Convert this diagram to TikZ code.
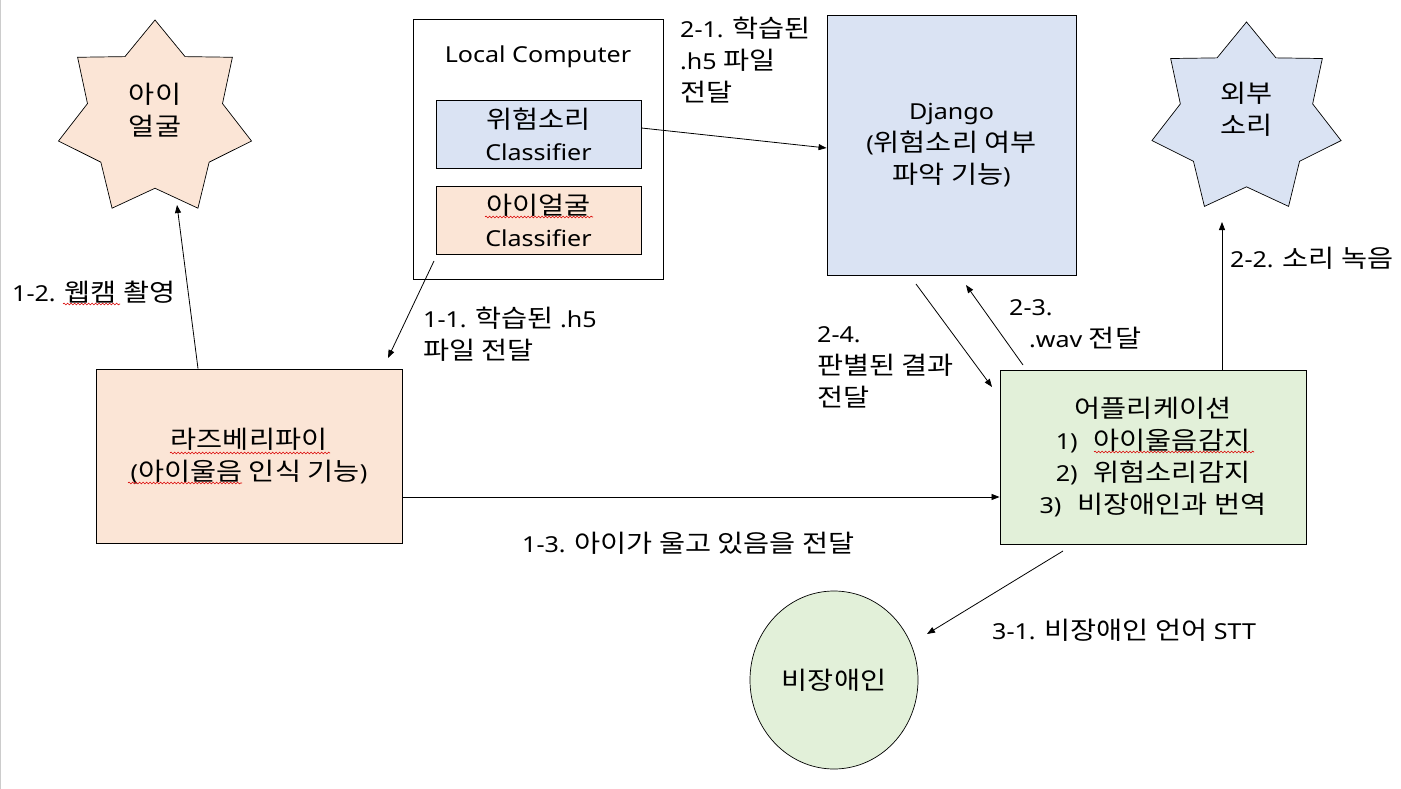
\documentclass[tikz,border=0pt]{standalone}
\usepackage{fontspec}
\setmainfont{Noto Sans}[FakeStretch=1.14]
\newfontfamily\krfont{Noto Sans CJK KR}[Scale=1.12, FakeStretch=1.15]
\XeTeXinterchartokenstate=1
\newXeTeXintercharclass\krclass
\newcount\hcnt
\hcnt="AC00
\loop
  \XeTeXcharclass\hcnt=\krclass
  \ifnum\hcnt<"D7A3 \advance\hcnt by 1
\repeat
\XeTeXinterchartoks 0 \krclass = {\krfont}
\XeTeXinterchartoks 4095 \krclass = {\krfont}
\XeTeXinterchartoks \krclass 0 = {\rmfamily}
\XeTeXinterchartoks \krclass 4095 = {\rmfamily}
\usetikzlibrary{shapes.geometric,arrows.meta,decorations.pathmorphing}
\definecolor{pblue}{HTML}{DAE3F3}
\definecolor{ppeach}{HTML}{FBE5D6}
\definecolor{pgreen}{HTML}{E2F0D9}
\begin{document}
\begin{tikzpicture}[x=1pt,y=-1pt,
  font=\fontsize{22}{32}\selectfont,
  box/.style={draw=black, line width=0.9pt, rectangle, inner sep=0pt, align=center},
  starshape/.style={draw=black, star, star points=7, star point ratio=1.43, inner sep=0pt, line width=0.7pt},
  arr/.style={line width=0.8pt, -{Triangle[length=8pt,width=6pt]}},
  lbl/.style={anchor=west, align=left, inner sep=0pt},
  txt/.style={align=center, inner sep=0pt},
  squig/.style={draw=red!85!black, line width=0.6pt, decorate, decoration={snake, amplitude=0.9pt, segment length=3.5pt}}]
\useasboundingbox (0,0) rectangle (1401,789);
\fill[white] (0,0) rectangle (1401,789);
\draw[gray!40, line width=1.2pt] (0.6,0) -- (0.6,789);

% stars
\node[starshape, fill=ppeach, minimum size=198pt] (s1) at (155,119) {};
\node[txt] (s1t) at (155,110) {아이\\얼굴};
\node[starshape, fill=pblue, minimum size=194pt] (s2) at (1246.5,119) {};
\node[txt] (s2t) at (1246.5,109) {외부\\소리};

% local computer
\node[box, minimum width=250pt, minimum height=260pt] (lc) at (538,149) {};
\node[txt] (lct) at (538,57) {Local Computer};
\node[box, fill=pblue, minimum width=205pt, minimum height=68pt] (c1) at (538.5,134) {위험소리\\Classifier};
\node[box, fill=ppeach, minimum width=205pt, minimum height=68pt] (c2) at (538.5,220) {아이얼굴\\Classifier};

% django
\node[box, fill=pblue, minimum width=249pt, minimum height=260pt] (dj) at (951.5,145) {Django\\(위험소리 여부\\파악 기능)};

% raspberry pi
\node[box, fill=ppeach, minimum width=306pt, minimum height=174pt] (rp) at (249,456) {라즈베리파이\\(아이울음 인식 기능)};

% application
\node[box, fill=pgreen, minimum width=306pt, minimum height=174pt] (app) at (1153,457) {어플리케이션\\1)\hspace{16pt}아이울음감지\\2)\hspace{16pt}위험소리감지\\3)\hspace{16pt}비장애인과 번역};

% person
\node[draw=black, ellipse, fill=pgreen, line width=0.7pt, minimum width=168pt, minimum height=178pt, inner sep=0pt] (bi) at (834,680) {비장애인};

% connectors
\coordinate (a11s) at (434,261);
\coordinate (a11e) at (388,358);
\draw[arr] (a11s) -- (a11e);

\coordinate (a12e) at (177,205);
\draw[arr] ([xshift=-51pt]rp.north) -- (a12e);

\draw[arr] ([yshift=6pt]c1.east) -- ([yshift=-3pt]dj.west);

\coordinate (a22e) at (1222,222);
\draw[arr] ([xshift=69pt]app.north) -- (a22e);

\coordinate (a23s) at (1023,365);
\coordinate (a23e) at (966,285);
\draw[arr] (a23s) -- (a23e);

\coordinate (a24s) at (916,284);
\coordinate (a24e) at (992,387);
\draw[arr] (a24s) -- (a24e);

\path ([yshift=-41pt]rp.east) coordinate (a13s);
\draw[arr] (a13s) -- (a13s -| app.west);

\coordinate (a31s) at (1063,551);
\coordinate (a31e) at (927,634);
\draw[arr] (a31s) -- (a31e);

% labels
\node[lbl] (l21) at (680,60) {2-1. 학습된\\.h5 파일\\전달};
\node[lbl] (l11) at (423,334) {1-1. 학습된 .h5\\파일 전달};
\node[lbl] (l12) at (12,292) {1-2. 웹캠 촬영};
\node[lbl] (l22) at (1230,258) {2-2. 소리 녹음};
\node[lbl] (l23) at (1009,324) {2-3.\\\hspace*{20pt}.wav 전달};
\node[lbl] (l24) at (817,367) {2-4.\\판별된 결과\\전달};
\node[lbl] (l13) at (522,543) {1-3. 아이가 울고 있음을 전달};
\node[lbl] (l31) at (992,630) {3-1. 비장애인 언어 STT};

% spell-check squiggles
\draw[squig] (63,304) -- (120,304);
\draw[squig] (485,217) -- (593,217);
\draw[squig] (170,453) -- (330,453);
\draw[squig] (128,483) -- (242,483);
\draw[squig] (1094,452) -- (1254,452);
\end{tikzpicture}
\end{document}
